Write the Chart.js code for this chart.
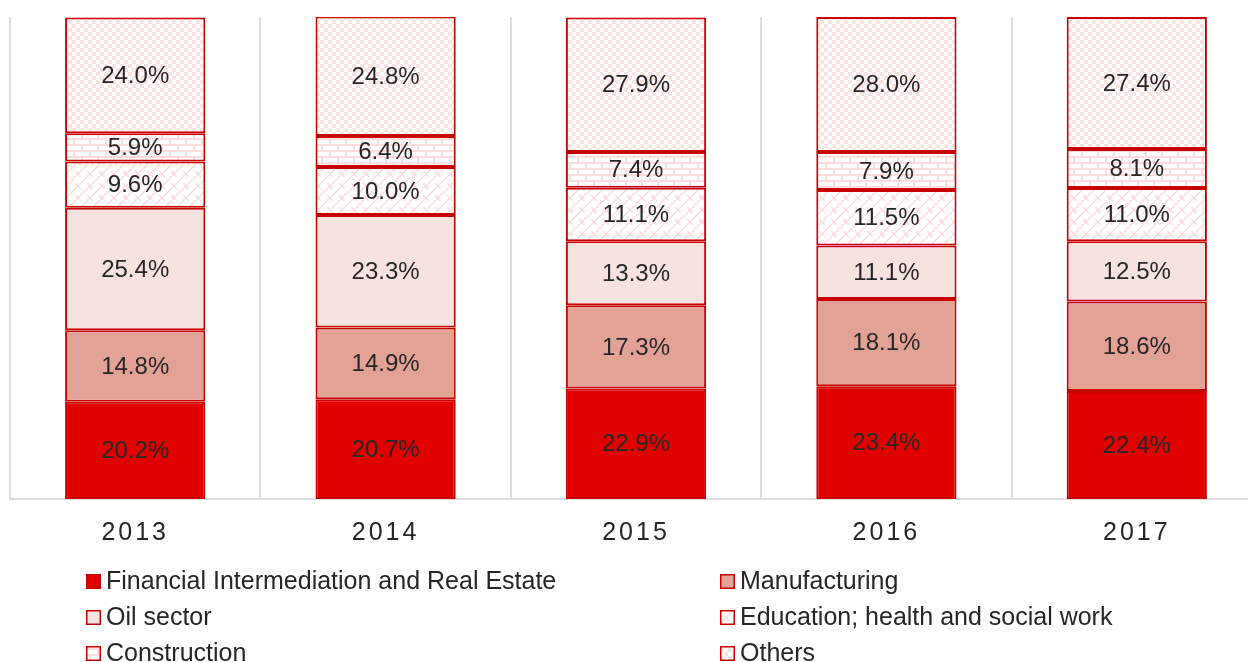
<html>
<head>
<title>Sector shares</title>
<style>
  body { margin: 0; background: #fff; overflow: hidden; }
  #wrap { width: 1262px; height: 662px; }
</style>
</head>
<body>
<div id="wrap"><canvas id="bar-chart" width="1262" height="662"></canvas></div>
<script src="https://cdn.jsdelivr.net/npm/chart.js@4/dist/chart.umd.min.js"></script>
<script>
    // data, percent of total
    var years = ["2013", "2014", "2015", "2016", "2017"];
    var sectorNames = ["Financial Intermediation and Real Estate", "Manufacturing", "Oil sector",
        "Education; health and social work", "Construction", "Others"];
    var financial = [20.2, 20.7, 22.9, 23.4, 22.4];
    var manufacturing = [14.8, 14.9, 17.3, 18.1, 18.6];
    var oil = [25.4, 23.3, 13.3, 11.1, 12.5];
    var education = [9.6, 10.0, 11.1, 11.5, 11.0];
    var construction = [5.9, 6.4, 7.4, 7.9, 8.1];
    var others = [24.0, 24.8, 27.9, 28.0, 27.4];

    var edge = "#c80000";
    var pinkLine = "#fcdcdc";

    function makePattern(kind) {
        var c = document.createElement("canvas");
        var g = c.getContext("2d");
        if (kind == "check") {
            c.width = 8; c.height = 8;
            g.fillStyle = "#fff"; g.fillRect(0, 0, 8, 8);
            g.fillStyle = "#fde2e2";
            g.fillRect(0, 0, 4, 4); g.fillRect(4, 4, 4, 4);
        } else if (kind == "brick") {
            c.width = 16; c.height = 12;
            g.fillStyle = "#fff"; g.fillRect(0, 0, 16, 12);
            g.strokeStyle = pinkLine; g.lineWidth = 2;
            g.beginPath();
            g.moveTo(0, 1); g.lineTo(16, 1);
            g.moveTo(0, 7); g.lineTo(16, 7);
            g.moveTo(2, 1); g.lineTo(2, 7);
            g.moveTo(10, 7); g.lineTo(10, 13);
            g.stroke();
        } else {
            c.width = 12; c.height = 12;
            g.fillStyle = "#fff"; g.fillRect(0, 0, 12, 12);
            g.strokeStyle = pinkLine; g.lineWidth = 1.5;
            g.beginPath();
            g.moveTo(-2, 14); g.lineTo(14, -2);
            g.moveTo(-2, 2); g.lineTo(2, -2);
            g.moveTo(10, 14); g.lineTo(14, 10);
            g.moveTo(3, 3); g.lineTo(9, 9);
            g.stroke();
        }
        return g.createPattern(c, "repeat");
    }

    var fills = ["#e00000", "#e2a396", "#f6e3e0", makePattern("lattice"), makePattern("brick"), makePattern("check")];
    var seriesValues = [financial, manufacturing, oil, education, construction, others];

    var datasets = [];
    for (var i = 0; i < sectorNames.length; i++) {
        datasets.push({
            label: sectorNames[i],
            data: seriesValues[i],
            backgroundColor: fills[i],
            borderColor: edge,
            borderWidth: 2,
            borderSkipped: false,
            barPercentage: 0.56,
            categoryPercentage: 1.0
        });
    }

    // value labels inside the segments + legend in two columns
    var extras = {
        id: "extras",
        afterDatasetsDraw: function (chart) {
            var ctx = chart.ctx;
            ctx.save();
            ctx.font = "24px 'Liberation Sans', Arial, sans-serif";
            ctx.fillStyle = "#262626";
            ctx.textAlign = "center";
            ctx.textBaseline = "middle";
            chart.data.datasets.forEach(function (ds, di) {
                chart.getDatasetMeta(di).data.forEach(function (bar, j) {
                    var p = bar.getCenterPoint();
                    ctx.fillText(ds.data[j].toFixed(1) + "%", p.x, p.y + 1);
                });
            });
            ctx.restore();
            ctx.letterSpacing = "3px"; // year labels are spaced out
        },
        afterDraw: function (chart) {
            var ctx = chart.ctx;
            ctx.letterSpacing = "0px";
            ctx.save();
            ctx.font = "25px 'Liberation Sans', Arial, sans-serif";
            ctx.textBaseline = "middle";
            ctx.textAlign = "left";
            var colX = [86, 720];
            var rowY = [581, 617, 653];
            chart.data.datasets.forEach(function (ds, i) {
                var x = colX[i % 2], y = rowY[Math.floor(i / 2)];
                ctx.fillStyle = ds.backgroundColor;
                ctx.fillRect(x, y - 7, 15, 15);
                ctx.strokeStyle = edge;
                ctx.lineWidth = 1.5;
                ctx.strokeRect(x + 0.75, y - 6.25, 13.5, 13.5);
                ctx.fillStyle = "#262626";
                ctx.fillText(ds.label, x + 20, y + 1);
            });
            ctx.restore();
        }
    };

    var ctx = document.getElementById("bar-chart").getContext("2d");
    new Chart(ctx, {
        type: "bar",
        data: { labels: years, datasets: datasets },
        options: {
            responsive: false,
            animation: false,
            layout: { padding: { left: 10, top: 17, right: 0, bottom: 0 } },
            plugins: { legend: { display: false }, tooltip: { enabled: false } },
            scales: {
                x: {
                    stacked: true,
                    grid: { offset: true, color: "#dedede", lineWidth: 2, drawTicks: false },
                    border: { color: "#dedede", width: 2 },
                    ticks: {
                        z: 1,
                        padding: 19,
                        color: "#262626",
                        font: { family: "'Liberation Sans', Arial, sans-serif", size: 25 }
                    },
                    afterFit: function (s) { s.height = 163; }
                },
                y: { stacked: true, display: false, min: 0, max: 100 }
            }
        },
        plugins: [extras]
    });
</script>
</body>
</html>
